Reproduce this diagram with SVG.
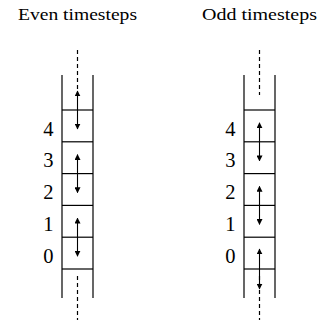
<svg xmlns="http://www.w3.org/2000/svg" width="320" height="322" viewBox="0 0 320 322">
  <style>
    .title { font-family: "Liberation Serif", "DejaVu Serif", serif; font-size: 17.5px; fill: #000; text-anchor: middle; }
    .idx { font-family: "Liberation Serif", "DejaVu Serif", serif; font-size: 20.5px; fill: #000; text-anchor: end; }
    .wall { stroke: #000; stroke-width: 1.2; fill: none; }
    .dash { stroke: #000; stroke-width: 1.2; fill: none; stroke-dasharray: 4 3; }
    .arrow { stroke: #000; stroke-width: 1.1; fill: none; marker-start: url(#head); marker-end: url(#head); }
  </style>
  <defs>
    <marker id="head" viewBox="0 0 10 10" refX="9" refY="5" markerWidth="6" markerHeight="6" markerUnits="userSpaceOnUse" orient="auto-start-reverse">
      <path d="M0,0 L10,5 L0,10 Z" fill="#000"/>
    </marker>
  </defs>

  <!-- column for even timesteps -->
  <g id="even">
    <text class="title" x="77.5" y="20" textLength="119" lengthAdjust="spacingAndGlyphs">Even timesteps</text>
    <line class="dash" x1="77.5" y1="50" x2="77.5" y2="95"/>
    <line class="dash" x1="77.5" y1="276" x2="77.5" y2="320"/>
    <line class="wall" x1="62" y1="75" x2="62" y2="298"/>
    <line class="wall" x1="93" y1="75" x2="93" y2="298"/>
    <line class="wall" x1="62" y1="110" x2="93" y2="110"/>
    <line class="wall" x1="62" y1="141.8" x2="93" y2="141.8"/>
    <line class="wall" x1="62" y1="173.6" x2="93" y2="173.6"/>
    <line class="wall" x1="62" y1="205.4" x2="93" y2="205.4"/>
    <line class="wall" x1="62" y1="237.2" x2="93" y2="237.2"/>
    <line class="wall" x1="62" y1="269" x2="93" y2="269"/>
    <text class="idx" x="53.5" y="135.5">4</text>
    <text class="idx" x="53.5" y="167.3">3</text>
    <text class="idx" x="53.5" y="199.1">2</text>
    <text class="idx" x="53.5" y="230.9">1</text>
    <text class="idx" x="53.5" y="262.7">0</text>
  </g>

  <!-- column for odd timesteps -->
  <g id="odd">
    <text class="title" x="259.5" y="20" textLength="115" lengthAdjust="spacingAndGlyphs">Odd timesteps</text>
    <line class="dash" x1="259.5" y1="50" x2="259.5" y2="95"/>
    <line class="dash" x1="259.5" y1="276" x2="259.5" y2="320"/>
    <line class="wall" x1="244" y1="75" x2="244" y2="298"/>
    <line class="wall" x1="275" y1="75" x2="275" y2="298"/>
    <line class="wall" x1="244" y1="110" x2="275" y2="110"/>
    <line class="wall" x1="244" y1="141.8" x2="275" y2="141.8"/>
    <line class="wall" x1="244" y1="173.6" x2="275" y2="173.6"/>
    <line class="wall" x1="244" y1="205.4" x2="275" y2="205.4"/>
    <line class="wall" x1="244" y1="237.2" x2="275" y2="237.2"/>
    <line class="wall" x1="244" y1="269" x2="275" y2="269"/>
    <text class="idx" x="235.5" y="135.5">4</text>
    <text class="idx" x="235.5" y="167.3">3</text>
    <text class="idx" x="235.5" y="199.1">2</text>
    <text class="idx" x="235.5" y="230.9">1</text>
    <text class="idx" x="235.5" y="262.7">0</text>
  </g>

  <!-- swap arrows across cell boundaries -->
  <g id="connectors">
    <line class="arrow" x1="77.5" y1="91" x2="77.5" y2="129"/>
    <line class="arrow" x1="77.5" y1="154.6" x2="77.5" y2="192.6"/>
    <line class="arrow" x1="77.5" y1="218.2" x2="77.5" y2="256.2"/>
    <line class="arrow" x1="259.5" y1="122.8" x2="259.5" y2="160.8"/>
    <line class="arrow" x1="259.5" y1="186.4" x2="259.5" y2="224.4"/>
    <line class="arrow" x1="259.5" y1="249" x2="259.5" y2="289"/>
  </g>
</svg>
